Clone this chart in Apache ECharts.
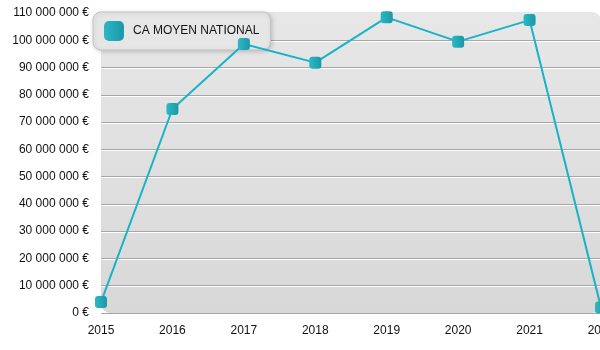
<!DOCTYPE html>
<html>
<head>
<meta charset="utf-8">
<script src="https://cdn.jsdelivr.net/npm/echarts@6/dist/echarts.min.js"></script>
<style>
  html, body { margin: 0; padding: 0; background: #fff; }
  #chart { width: 600px; height: 350px; }
</style>
</head>
<body>
<div id="chart"></div>
<script>
// Chiffre d'affaires moyen national par année
const years = ['2015', '2016', '2017', '2018', '2019', '2020', '2021', '2022'];
const caMoyen = [4000000, 74800000, 98600000, 91800000, 108400000, 99500000, 107400000, 2000000];
const seriesName = 'CA MOYEN NATIONAL';
const yMin = 0;
const yMax = 110000000;
const yStep = 10000000;

function formatEuro(v) {
  return String(Math.round(v)).replace(/\B(?=(\d{3})+(?!\d))/g, ' ') + ' €';
}

const teal = new echarts.graphic.LinearGradient(0, 0, 1, 0, [
  { offset: 0, color: '#2cb8c6' },
  { offset: 1, color: '#1a98a7' }
]);

const chart = echarts.init(document.getElementById('chart'), null, { renderer: 'canvas' });
chart.setOption({
  animation: false,
  textStyle: { fontFamily: 'Liberation Sans, Arial, sans-serif' },
  graphic: [{
    type: 'rect',
    z: -10,
    left: 101,
    top: 12,
    shape: { width: 500, height: 301, r: 9 },
    style: {
      fill: new echarts.graphic.LinearGradient(0, 0, 0, 1, [
        { offset: 0, color: '#e7e7e7' },
        { offset: 1, color: '#d8d8d8' }
      ])
    }
  }],
  grid: {
    left: 101, top: 13, width: 500, height: 300,
    containLabel: false,
    outerBoundsMode: 'none'
  },
  legend: {
    data: [seriesName],
    left: 93,
    top: 12,
    z: 1,
    selectedMode: false,
    icon: 'roundRect',
    itemWidth: 20,
    itemHeight: 20,
    padding: [9, 11, 9, 11],
    backgroundColor: '#e6e6e6',
    borderColor: '#c4c4c4',
    borderWidth: 1,
    borderRadius: 8,
    shadowColor: 'rgba(0,0,0,0.18)',
    shadowBlur: 4,
    shadowOffsetX: 1,
    shadowOffsetY: 1,
    textStyle: { color: '#111', fontSize: 12, padding: [0, 0, 0, 4] }
  },
  xAxis: {
    type: 'category',
    data: years,
    boundaryGap: false,
    axisLine: { show: false },
    axisTick: { show: false },
    axisLabel: { color: '#111', fontSize: 12, margin: 12 },
    splitLine: { show: false }
  },
  yAxis: {
    type: 'value',
    min: yMin,
    max: yMax,
    interval: yStep,
    axisLine: { show: false },
    axisTick: { show: false },
    axisLabel: { color: '#111', fontSize: 12, margin: 12, formatter: formatEuro },
    splitLine: {
      show: true,
      showMaxLine: false,
      lineStyle: {
        color: '#a6a6a6',
        width: 1,
        shadowColor: '#ffffff',
        shadowOffsetY: 1,
        shadowBlur: 0
      }
    }
  },
  series: [{
    name: seriesName,
    type: 'line',
    z: 2,
    data: caMoyen,
    clip: false,
    symbol: 'roundRect',
    symbolSize: 12,
    lineStyle: { color: '#19b3c6', width: 2 },
    itemStyle: { color: teal, borderWidth: 0 }
  }]
});
</script>
</body>
</html>
